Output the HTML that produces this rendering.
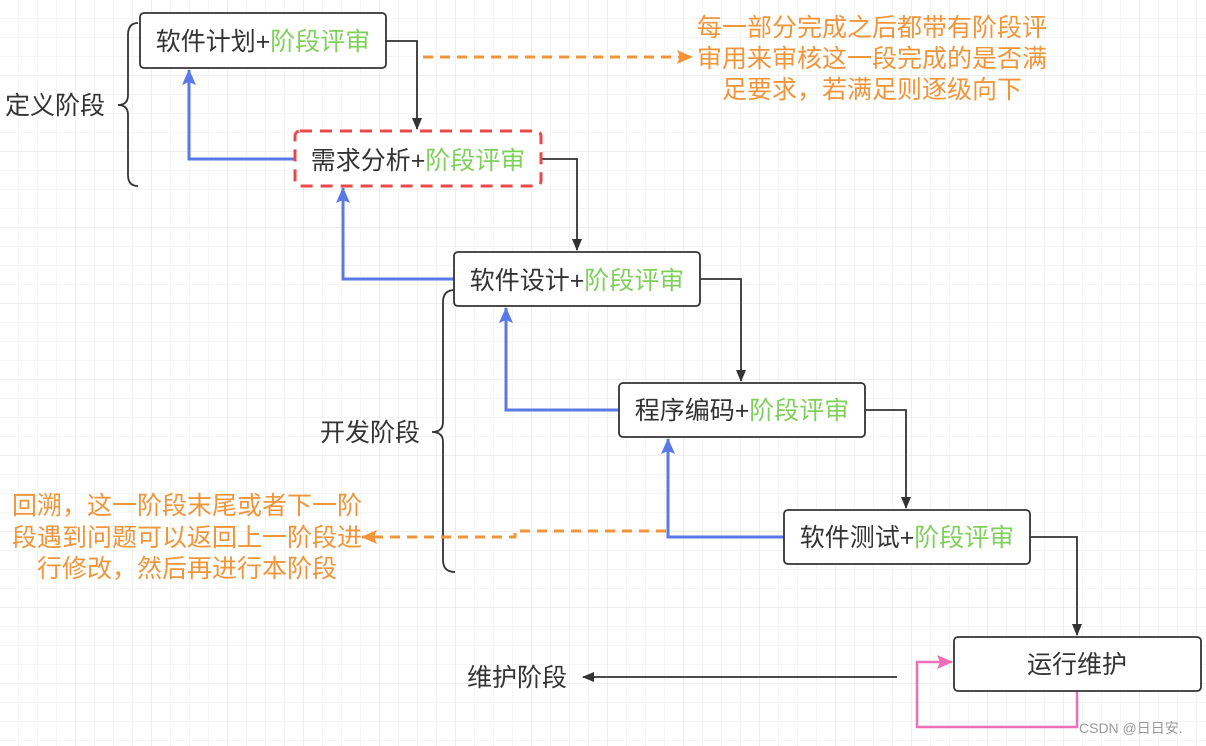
<!DOCTYPE html>
<html><head><meta charset="utf-8"><style>
html,body{margin:0;padding:0;background:#fff;}
svg{display:block;font-family:"Liberation Sans","Noto Sans CJK SC",sans-serif;}
</style></head><body>
<svg width="1206" height="746" viewBox="0 0 1206 746" xmlns="http://www.w3.org/2000/svg">
<defs>
<pattern id="g1" width="19" height="19" patternUnits="userSpaceOnUse"><path d="M19 0V19M0 19H19" fill="none" stroke="#ebebeb" stroke-width="1"/></pattern>
<pattern id="g2" width="76" height="76" patternUnits="userSpaceOnUse"><rect width="76" height="76" fill="url(#g1)"/><path d="M76 0V76M0 76H76" fill="none" stroke="#dcdcdc" stroke-width="1"/></pattern>
<marker id="ab" markerWidth="12" markerHeight="12" refX="11" refY="6" orient="auto" markerUnits="userSpaceOnUse"><path d="M0,1 L12,6 L0,11 Z" fill="#333"/></marker>
<marker id="abl" markerWidth="16" markerHeight="16" refX="15" refY="8" orient="auto" markerUnits="userSpaceOnUse"><path d="M0,1 L16,8 L0,15 L3,8 Z" fill="#5a78e6"/></marker>
<marker id="ao" markerWidth="16" markerHeight="16" refX="15" refY="8" orient="auto" markerUnits="userSpaceOnUse"><path d="M0,1 L16,8 L0,15 L3,8 Z" fill="#f0953a"/></marker>
<marker id="ap" markerWidth="16" markerHeight="16" refX="15" refY="8" orient="auto" markerUnits="userSpaceOnUse"><path d="M0,1 L16,8 L0,15 L3,8 Z" fill="#ee6fb8"/></marker>
</defs>
<rect width="1206" height="746" fill="url(#g2)"/>

<g fill="none" stroke="#333" stroke-width="1.8">
<path d="M386 41H417V129" marker-end="url(#ab)"/>
<path d="M541 159H577V250" marker-end="url(#ab)"/>
<path d="M700 279H741V381" marker-end="url(#ab)"/>
<path d="M865 410H906V508" marker-end="url(#ab)"/>
<path d="M1030 537H1077V635" marker-end="url(#ab)"/>
<path d="M897 677H583" marker-end="url(#ab)"/>
<path d="M138 23Q128 23 128 35V95Q128 105 118 105Q128 105 128 115V175Q128 186 138 186"/>
<path d="M455 290Q443 290 443 302V422Q443 432 432 432Q443 432 443 442V560Q443 572 455 572"/>
</g>
<g fill="none" stroke="#5a78e6" stroke-width="3">
<path d="M295 159H189V70" marker-end="url(#abl)"/>
<path d="M454 279H343V188" marker-end="url(#abl)"/>
<path d="M619 410H506V308" marker-end="url(#abl)"/>
<path d="M784 537H668V439" marker-end="url(#abl)"/>
</g>
<g fill="none" stroke="#f0953a" stroke-width="3" stroke-dasharray="10,7">
<path d="M423 57H692" marker-end="url(#ao)"/>
<path d="M666 531H515V537H362" marker-end="url(#ao)"/>
</g>
<path d="M1077 691V727H917V662H952" fill="none" stroke="#ee6fb8" stroke-width="2.5" marker-end="url(#ap)"/>

<g fill="#fff" stroke="#333" stroke-width="1.8">
<rect x="140" y="13" width="246" height="55" rx="4"/>
<rect x="454" y="252" width="246" height="54" rx="4"/>
<rect x="619" y="383" width="246" height="54" rx="4"/>
<rect x="784" y="510" width="246" height="54" rx="4"/>
<rect x="954" y="637" width="247" height="54" rx="4"/>
</g>
<rect x="295" y="131" width="246" height="55" rx="5" fill="#fff" stroke="#e84a4a" stroke-width="3" stroke-dasharray="12,8"/>

<g font-size="25" fill="#333" text-anchor="middle" dominant-baseline="central">
<text x="263" y="42">软件计划+<tspan fill="#7ed05a">阶段评审</tspan></text>
<text x="418" y="161">需求分析+<tspan fill="#7ed05a">阶段评审</tspan></text>
<text x="577" y="281">软件设计+<tspan fill="#7ed05a">阶段评审</tspan></text>
<text x="742" y="411">程序编码+<tspan fill="#7ed05a">阶段评审</tspan></text>
<text x="907" y="538">软件测试+<tspan fill="#7ed05a">阶段评审</tspan></text>
<text x="1077" y="665">运行维护</text>
</g>
<g font-size="25" fill="#333" dominant-baseline="central">
<text x="5" y="106">定义阶段</text>
<text x="320" y="433">开发阶段</text>
<text x="467" y="678">维护阶段</text>
</g>
<g font-size="25" fill="#f0953a" text-anchor="middle" dominant-baseline="central">
<text x="872" y="28">每一部分完成之后都带有阶段评</text>
<text x="872" y="59">审用来审核这一段完成的是否满</text>
<text x="872" y="90">足要求，若满足则逐级向下</text>
<text x="187" y="506">回溯，这一阶段末尾或者下一阶</text>
<text x="187" y="538">段遇到问题可以返回上一阶段进</text>
<text x="187" y="569">行修改，然后再进行本阶段</text>
</g>
<text x="1079" y="728" font-size="14" fill="#999" dominant-baseline="central">CSDN @日日安.</text>
</svg>
</body></html>
